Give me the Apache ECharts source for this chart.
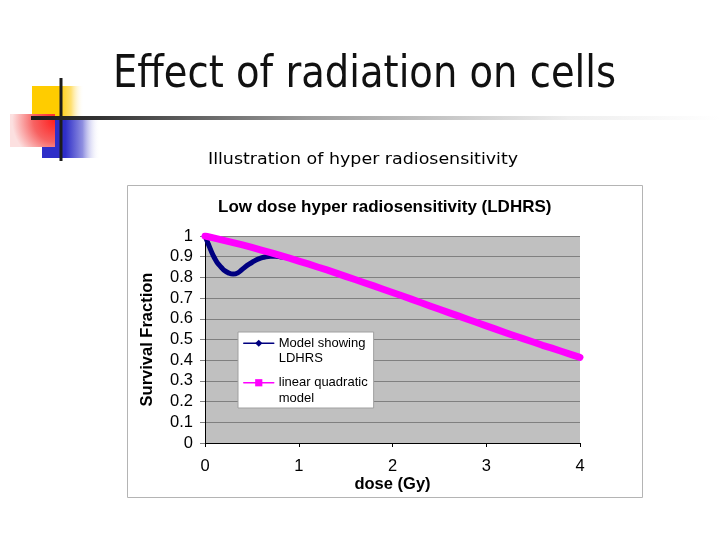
<!DOCTYPE html>
<html>
<head>
<meta charset="utf-8">
<script src="https://cdn.jsdelivr.net/npm/echarts@6/dist/echarts.min.js"></script>
<style>
html,body{margin:0;padding:0;background:#fff;}
#chart{width:720px;height:540px;}
</style>
</head>
<body>
<div id="chart"></div>
<script>
// ---- data ----
const slideTitle = 'Effect of radiation on cells';
const slideSubtitle = 'Illustration of hyper radiosensitivity';
const chartTitle = 'Low dose hyper radiosensitivity (LDHRS)';
const xAxisTitle = 'dose (Gy)';
const yAxisTitle = 'Survival Fraction';
const seriesNames = ['Model showing\nLDHRS', 'linear quadratic\nmodel'];

// Model showing LDHRS
const hrsDose = [0, 0.025, 0.05, 0.075, 0.1, 0.125, 0.15, 0.175, 0.2, 0.25, 0.3, 0.35, 0.4, 0.45, 0.5, 0.55, 0.6, 0.65, 0.7, 0.75, 0.8, 0.9, 1.0];
const hrsSurvival = [1.0, 0.973, 0.945, 0.918, 0.895, 0.875, 0.86, 0.848, 0.836, 0.822, 0.816, 0.822, 0.84, 0.858, 0.872, 0.885, 0.894, 0.9, 0.902, 0.902, 0.9, 0.892, 0.879];

// linear quadratic model
const lqDose = [0, 0.1, 0.2, 0.3, 0.4, 0.5, 0.6, 0.7, 0.8, 0.9, 1.0, 1.1, 1.2, 1.3, 1.4, 1.5, 1.6, 1.7, 1.8, 1.9, 2.0, 2.1, 2.2, 2.3, 2.4, 2.5, 2.6, 2.7, 2.8, 2.9, 3.0, 3.1, 3.2, 3.3, 3.4, 3.5, 3.6, 3.7, 3.8, 3.9, 4.0];
const lqSurvival = [1.0, 0.990, 0.979, 0.968, 0.957, 0.945, 0.932, 0.920, 0.906, 0.893, 0.879, 0.865, 0.850, 0.836, 0.821, 0.805, 0.790, 0.774, 0.759, 0.743, 0.727, 0.711, 0.695, 0.679, 0.662, 0.646, 0.630, 0.614, 0.598, 0.582, 0.566, 0.550, 0.534, 0.518, 0.503, 0.488, 0.472, 0.458, 0.443, 0.428, 0.414];

// axis ranges
const xMin = 0, xMax = 4, xStep = 1;
const yMin = 0, yMax = 1, yStep = 0.1;

const zip = (a, b) => a.map((v, i) => [v, b[i]]);

const chart = echarts.init(document.getElementById('chart'), null, {renderer: 'canvas'});
const AR = 'Liberation Sans, Arial, sans-serif';

chart.setOption({
  backgroundColor: '#ffffff',
  animation: false,
  title: {
    text: chartTitle,
    left: 218, top: 199, padding: 0,
    textStyle: {fontFamily: AR, fontWeight: 'bold', fontSize: 17, color: '#000'}
  },
  graphic: [
    // chart area frame
    {type: 'rect', z: -10, shape: {x: 127.5, y: 185.5, width: 515, height: 312},
     style: {fill: '#fff', stroke: '#b4b4b4', lineWidth: 1}},
    // decorative squares
    {type: 'rect', z: 1, shape: {x: 32, y: 86, width: 52, height: 31},
     style: {fill: new echarts.graphic.LinearGradient(0, 0, 1, 0, [
       {offset: 0, color: '#FFCC00'}, {offset: 0.5, color: '#FFCC00'},
       {offset: 0.75, color: '#FFE070'}, {offset: 1, color: 'rgba(255,255,255,0)'}])}},
    {type: 'rect', z: 1, shape: {x: 42, y: 119, width: 58, height: 39},
     style: {fill: new echarts.graphic.LinearGradient(0, 0, 1, 0, [
       {offset: 0, color: '#2E2EC8'}, {offset: 0.4, color: '#2E2EC8'},
       {offset: 0.7, color: '#8F8FE0'}, {offset: 1, color: 'rgba(255,255,255,0)'}])}},
    {type: 'rect', z: 2, shape: {x: 10, y: 114, width: 45, height: 33},
     style: {fill: new echarts.graphic.RadialGradient(1, 0.2, 1.3, [
       {offset: 0, color: '#FF2020'}, {offset: 0.5, color: '#F76262'},
       {offset: 1, color: '#FCE0E0'}])}},
    {type: 'line', z: 3, shape: {x1: 61, y1: 78, x2: 61, y2: 161},
     style: {stroke: '#1c1c1c', lineWidth: 3}},
    {type: 'rect', z: 3, shape: {x: 31, y: 116, width: 689, height: 4},
     style: {fill: new echarts.graphic.LinearGradient(0, 0, 1, 0, [
       {offset: 0, color: '#1a1a1a'}, {offset: 0.1, color: '#333333'},
       {offset: 0.4, color: '#9a9a9a'}, {offset: 0.78, color: '#eeeeee'},
       {offset: 1, color: '#ffffff'}])}},
    // slide title & subtitle
    {type: 'text', z: 5, x: 113, y: 76, scaleX: 0.875,
     style: {text: slideTitle, font: '44px "DejaVu Sans", sans-serif', fill: '#111',
             textAlign: 'left', textVerticalAlign: 'middle'}},
    {type: 'text', z: 5, x: 208, y: 160, scaleX: 1.09,
     style: {text: slideSubtitle, font: '16px "DejaVu Sans", sans-serif', fill: '#000',
             textAlign: 'left', textVerticalAlign: 'middle'}}
  ],
  grid: {
    left: 205, right: 140, top: 236, bottom: 97,
    show: true, backgroundColor: '#C0C0C0', borderWidth: 0
  },
  legend: {
    orient: 'vertical',
    left: 238, top: 332,
    backgroundColor: '#ffffff', borderColor: '#a0a0a0', borderWidth: 1, borderRadius: 0,
    padding: [-12, 6, 2, 5],
    itemWidth: 30, itemHeight: 9, itemGap: -7,
    lineStyle: {width: 1.5},
    formatter: name => '\n' + name,
    textStyle: {fontFamily: AR, fontSize: 13, color: '#000', lineHeight: 15.5},
    data: seriesNames
  },
  xAxis: {
    type: 'value', min: xMin, max: xMax, interval: xStep,
    name: xAxisTitle, nameLocation: 'middle', nameGap: 33,
    nameTextStyle: {fontFamily: AR, fontWeight: 'bold', fontSize: 16.5, color: '#000'},
    axisLine: {show: true, onZero: false, lineStyle: {color: '#000', width: 1}},
    axisTick: {show: true, length: 4, inside: false, lineStyle: {color: '#000'}},
    axisLabel: {fontFamily: AR, fontSize: 16.5, color: '#000', margin: 15},
    splitLine: {show: false}
  },
  yAxis: {
    type: 'value', min: yMin, max: yMax, interval: yStep,
    name: yAxisTitle, nameLocation: 'middle', nameGap: 49, nameRotate: 90,
    nameTextStyle: {fontFamily: AR, fontWeight: 'bold', fontSize: 16.5, color: '#000'},
    axisLine: {show: true, lineStyle: {color: '#000', width: 1}},
    axisTick: {show: true, length: 5, inside: false, lineStyle: {color: '#808080'}},
    axisLabel: {fontFamily: AR, fontSize: 16.5, color: '#000', margin: 12},
    splitLine: {show: true, lineStyle: {color: '#808080', width: 1}}
  },
  series: [
    {
      name: seriesNames[0], type: 'line', data: zip(hrsDose, hrsSurvival),
      symbol: 'diamond', showSymbol: false, smooth: true, z: 3,
      lineStyle: {color: '#000080', width: 5, cap: 'round', join: 'round'},
      itemStyle: {color: '#000080'}
    },
    {
      name: seriesNames[1], type: 'line', data: zip(lqDose, lqSurvival),
      symbol: 'rect', showSymbol: false, smooth: false, z: 4,
      lineStyle: {color: '#FF00FF', width: 7, cap: 'round', join: 'round'},
      itemStyle: {color: '#FF00FF'}
    }
  ]
});
</script>
</body>
</html>
